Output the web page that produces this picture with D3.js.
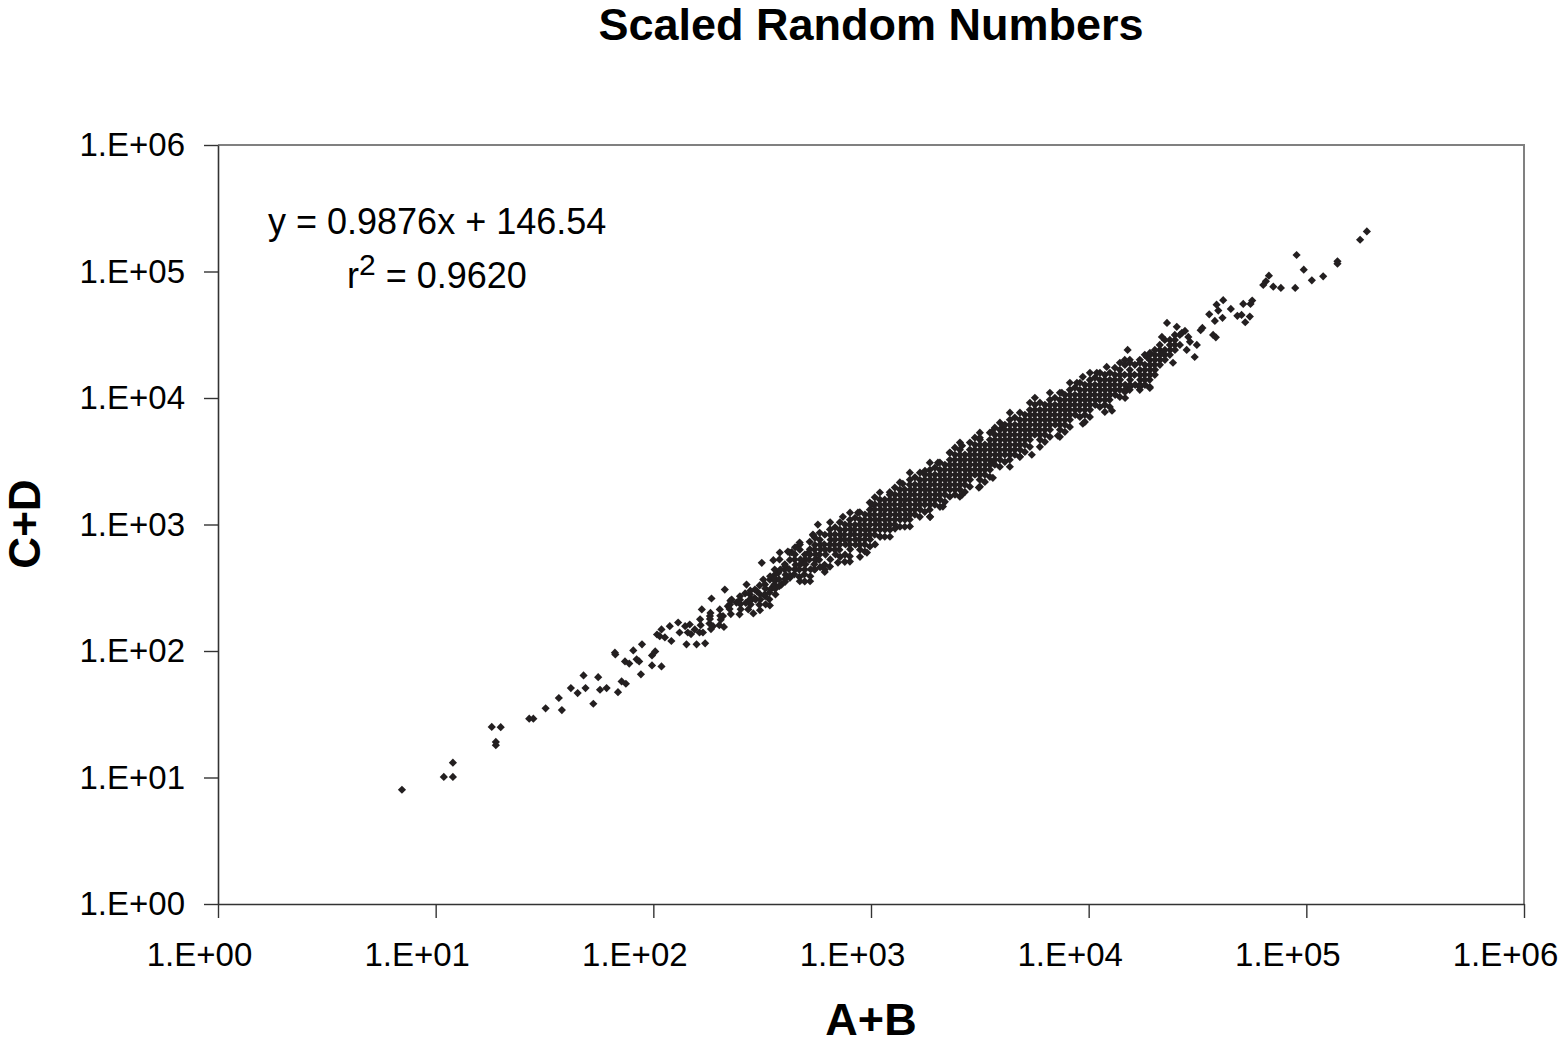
<!DOCTYPE html>
<html>
<head>
<meta charset="utf-8">
<script src="https://cdnjs.cloudflare.com/ajax/libs/d3/7.8.5/d3.min.js"></script>
<style>
  body { margin: 0; background: #fff; }
  svg { display: block; font-family: "Liberation Sans", Arial, sans-serif; }
</style>
</head>
<body>
<div id="chart"></div>
<script>
// [A+B, C+D] pairs

// sparse low end
var sparseLow = [
  [7.0,8.0],[10.9,10.1],[12.0,10.1],[12.0,13.1],[18.1,25.1],[19.9,25.0],[18.9,19.1],[18.9,18.0],
  [26.9,29.2],[28.1,29.2],[32.0,35.2],[36.8,42.5],[38.0,34.1],[41.8,50.9],[44.9,46.5],[47.8,64.1],
  [48.8,50.9],[53.0,38.3],[55.8,62.1],[56.9,49.4],[61.0,50.9],[66.6,97.0],[66.9,94.0],[68.8,47.3],
  [71.5,57.5],[74.8,55.1],[74.1,82.7],[77.5,79.6],[80.9,101],[83.8,85.9],[86.1,82.7],
  [87.7,65.4],[88.7,113],[98.6,76.9],[109,75.5],[98.6,92.3],[102,99.3]
];

// lower part of the band (about 100 to 560)
var bandLower = [
  [104,135],[109,148],[107,131],[113,128],[119,157],[121,120],[130,168],[132,140],[140,157],[142,113],
  [144,140],[158,113],[155,148],[167,213],[164,178],[173,115],[169,140],[185,260],[182,189],[188,157],
  [211,155],[209,189],[213,306],[220,226],[229,255],[241,241],[250,271],[268,335],[273,213],[288,198],
  [283,255],[299,297],[309,210],[315,498],[320,367],[326,271],[343,229],[356,522],[356,325],[375,415],
  [388,335],[403,468],[432,604],[424,379],[447,441],[471,694],[471,356],[488,498],[525,356],[515,597],
  [543,817],[552,441],[562,528],
  [182,179],[184,149],[202,213],[204,177],[225,233],[227,196],[250,254],[252,214],[278,280],[280,233],
  [293,306],[295,255],[309,281],[307,232],[326,336],[324,279],[328,234],[343,366],[345,307],[341,256],
  [362,401],[360,336],[364,280],
  [147,162],[149,136],[165,160],[163,140],[183,200],[181,165],[203,190],[201,160],[226,250],[224,215],
  [251,235],[249,195],[279,300],[277,255],[308,330],[310,255],[344,390],[342,290],[361,440],[363,360],
  [264,285],[266,240],[292,262],[327,312],[361,372],[363,310],[401,440],[403,370],[446,528],[448,445],
  [498,530],[496,440],[551,634],[553,528],[550,441]
];

// dense part of the band
var bandCore = [
  [380,530],[383,440],[378,368],[402,485],[405,400],[424,525],[420,444],[447,580],[450,480],[444,404],
  [471,632],[474,530],[468,440],[472,482],[497,578],[500,485],[494,403],
  [524,636],[520,527],[528,442],[525,579],[552,690],[556,580],[549,484],
  [582,758],[586,636],[578,526],[583,694],[580,579],
  [614,830],[610,696],[618,578],[612,480],[615,634],
  [648,915],[652,758],[645,635],[650,530],[649,832],[647,694],
  [683,835],[680,692],[687,580],[684,760],[682,634],
  [720,910],[724,762],[716,632],[721,832],[718,694],
  [759,1000],[755,830],[763,695],[760,577],[760,911],[757,760],
  [800,1090],[805,912],[796,758],[802,636],[798,997],[803,833],[799,695],
  [844,995],[840,834],[848,692],[842,912],[846,760],
  [889,1095],[893,910],[885,762],[890,632],[887,999],[891,831],[888,693],
  [938,1200],[934,996],[942,830],[936,696],[936,1092],[940,910],[937,761],
  [988,1310],[992,1095],[984,908],[990,762],[986,1198],[989,997],[987,831],
  [1042,1440],[1038,1195],[1046,1000],[1040,830],[1044,696],[1040,1312],[1043,1094],[1041,910],
  [1099,1570],[1104,1315],[1094,1090],[1100,912],[1097,1435],[1101,1196],[1098,999],
  [1158,1435],[1153,1200],[1162,997],[1156,1571],[1160,1310],[1157,1092],[1159,912],
  [1221,1575],[1226,1308],[1216,1095],[1222,910],[1219,1437],[1223,1198],[1220,997],
  [1288,1720],[1283,1438],[1293,1195],[1286,1000],[1286,1573],[1290,1312],[1287,1094],
  [1358,1890],[1364,1570],[1352,1313],[1360,1092],[1356,1721],[1361,1437],[1357,1196],
  [1431,1725],[1425,1434],[1437,1198],[1429,1887],[1433,1571],[1430,1311],[1432,1093],
  [1509,2260],[1515,1884],[1503,1575],[1510,1310],[1506,1095],[1507,2066],[1511,1723],[1508,1436],[1510,1197],
  [1591,2070],[1585,1720],[1597,1435],[1590,1198],[1589,1886],[1593,1572],[1590,1312],
  [1677,2258],[1683,1888],[1671,1570],[1679,1312],[1675,2064],[1680,1722],[1676,1436],
  [1768,2480],[1762,2063],[1774,1724],[1766,1437],[1766,2262],[1770,1887],[1767,1572],
  [1865,2710],[1871,2265],[1858,1885],[1866,1573],[1860,1310],[1863,2477],[1867,2065],[1864,1721],[1866,1437],
  [1966,2475],[1960,2067],[1972,1720],[1965,1434],[1964,2261],[1968,1886],[1965,1573],
  [2073,2715],[2080,2258],[2066,1887],[2075,1571],[2071,2476],[2076,2066],[2072,1722],
  [2185,2968],[2178,2478],[2192,2066],[2183,1723],[2183,2711],[2188,2262],[2184,1887],
  [2303,3250],[2310,2710],[2296,2262],[2305,1885],[2301,2971],[2306,2477],[2302,2065],
  [2429,3560],[2422,2972],[2436,2474],[2427,2066],[2432,1721],[2427,3253],[2431,2712],[2428,2261],[2430,1886],
  [2561,3900],[2569,3255],[2553,2711],[2563,2260],[2558,1888],[2559,3562],[2564,2970],[2560,2476],[2562,2065],
  [2700,3565],[2692,2969],[2708,2477],[2698,2064],[2698,3252],[2703,2712],[2699,2261],
  [2847,3902],[2855,3250],[2839,2713],[2850,2262],[2845,3563],[2850,2971],[2846,2476],
  [3001,4270],[2992,3563],[3010,2971],[3003,2475],[2999,3901],[3004,3253],[3000,2712],
  [3164,4680],[3173,3900],[3155,3253],[3166,2712],[3160,2260],[3162,4272],[3167,3562],[3163,2970],[3165,2476],
  [3336,4273],[3327,3561],[3345,2970],[3334,2477],[3334,3902],[3339,3252],[3335,2713],
  [3517,4676],[3527,3903],[3507,3251],[3520,2711],[3515,4273],[3520,3562],[3516,2970],
  [3708,5120],[3698,4274],[3718,3560],[3705,2972],[3706,4678],[3711,3901],[3707,3253],
  [3909,5610],[3920,4677],[3898,3900],[3912,3254],[3907,5123],[3912,4272],[3908,3562],
  [4122,6140],[4110,5125],[4134,4270],[4120,3563],[4120,5610],[4125,4678],[4121,3901],
  [4345,6730],[4357,5608],[4333,4680],[4348,3902],[4340,3250],[4343,6144],[4348,5123],[4344,4272],[4346,3562],
  [4581,6145],[4568,5121],[4594,4271],[4578,3561],[4579,5610],[4584,4678],[4580,3901],
  [4831,6728],[4845,5612],[4817,4679],[4835,3900],[4829,6144],[4834,5123],[4830,4272],
  [5093,7370],[5078,6143],[5108,5124],[5090,4273],[5091,6729],[5096,5610],[5092,4678],
  [5370,8070],[5386,6731],[5354,5611],[5374,4677],[5368,7369],[5373,6144],[5369,5123],
  [5662,8840],[5646,7368],[5678,6145],[5658,5122],[5660,8070],[5665,6729],[5661,5610],
  [5969,8072],[5986,6728],[5952,5609],[5973,4680],[5967,7369],[5972,6144],[5968,5123],
  [6293,8835],[6275,7370],[6311,6143],[6290,5125],[6291,8070],[6296,6729],[6292,5610],
  [6635,9680],[6654,8068],[6616,6730],[6640,5611],[6633,8837],[6638,7369],[6634,6144],
  [6995,8838],[6975,7367],[7015,6144],[6993,8070],[6998,6729],
  [7375,9676],[7396,8071],[7354,6729],[7380,5612],[7373,8837],[7378,7369],[7374,6144],
  [7776,10600],[7754,8836],[7798,7370],[7770,6146],[7774,9678],[7779,8070],[7775,6729],
  [8197,11600],[8220,9680],[8174,8072],[8200,6728],[8195,10600],[8200,8837],[8196,7369],
  [8643,10610],[8619,8838],[8667,7368],[8641,9678],[8646,8070],
  [9112,11620],[9138,9677],[9086,8070],[9110,10600],[9115,8837],
  [9607,12700],[9580,10602],[9634,8836],[9600,7370],[9605,11610],[9610,9678],[9606,8070],
  [10130,13900],[10160,11610],[10100,9680],[10140,8069],[10120,12710],[10150,10600],[10130,8840],
  [10680,12720],[10650,10598],[10710,8838],[10670,11610],[10700,9680],
  [11260,13930],[11290,11605],[11230,9679],[11250,12710],[11280,10600],
  [11870,15250],[11840,12705],[11900,10601],[11860,8837],[11860,13920],[11890,11610],[11870,9680],
  [12510,13915],[12545,11612],[12475,9678],[12500,12710],[12530,10600],
  [13190,15235],[13150,12712],[13230,10599],[13180,13920],[13210,11610],
  [13910,16700],[13950,13925],[13870,11608],[13900,15240],[13930,12710],
  [14670,18270],[14630,15245],[14710,12708],[15460,16705],[15500,13918],
  [16300,18285],[16250,15238],[16350,12715],[17190,16698],[17240,13921],
  [18120,18278],[18070,15242],[19110,20010],[19160,16702],[19060,13919],
  [20150,21920],[20100,18283],[21230,24000],[21290,20025],[22390,21935],
  [23610,28790],[23680,24015],[24890,26310],
  [14650,20000],[14690,11600],[15450,20020],[15470,15240],[15480,12710],[15440,11610],
  [17180,20020],[17200,15240],[17210,12710],[17170,11610],[18110,21930],[18130,16700],[18100,13920],[18140,12710],
  [19100,21930],[19120,18280],[19130,15240],[20140,24010],[20160,20020],[20170,16700],[20130,15240],
  [21220,26300],[21240,21930],[21250,18280],[22380,28800],[22400,24010],[22410,20020],
  [23620,26300],[23600,21930],[24880,31540],[24900,28800],[24910,24010],[26230,31540],[26250,26300]
];

// outer rows just above and below the dense core
var bandOuter = [
  [381,600],[379,325],[423,600],[425,395],[470,720],[469,385],[523,730],[526,390],[581,860],[584,460],
  [649,1040],[648,465],[719,1040],[722,555],[801,1240],[799,560],[888,1250],[890,555],[987,1490],[989,670],
  [1098,1790],[1101,800],[1220,1800],[1222,800],[1357,2150],[1359,960],[1508,2570],[1509,965],
  [1678,2570],[1676,1150],[1864,3080],[1866,1150],[2072,3090],[2074,1380],[2304,3700],[2302,1660],
  [2562,4440],[2560,1660],[2848,4440],[2846,1990],[3163,5320],[3165,1990],[3518,5320],[3516,2380],
  [3910,6380],[3908,2860],[4346,7650],[4344,2860],[4832,7650],[4830,3430],[5371,9170],[5369,4110],
  [5970,9180],[5968,4110],[6636,11000],[6634,4930],[7376,11000],[7374,4930],[8198,13200],[8196,5910],
  [9113,13200],[9111,7090],[10135,15800],[10125,7090],[11265,15800],[11255,8500],[12515,15800],[12505,8500],
  [13915,19000],[13905,10200],[15465,19000],[15455,12200],[17195,19000],[17185,12200],[19115,22700],[19105,12200],
  [403,352],[448,660],[496,355],[553,785],[613,422],[684,950],[758,507],[845,1130],[937,612],[1041,1640],
  [1157,800],[1287,1960],[1430,960],[1592,2360],[1767,1260],[1967,2820],[2184,1510],[2430,4050],[2699,1810],
  [3002,4860],[3335,2170],[3707,5830],[4121,3130],[4580,7000],[5092,3750],[5661,10050],[6292,4500],
  [6996,10050],[7775,5400],[8644,12080],[9606,6470],[10690,14500],[11865,7760],[13200,17350],[14680,11160]
];

// ragged upper and lower edges of the band
var bandEdges = [
  [415,611],[541,832],[570,998],[743,1150],[871,1240],[1010,1440],[1220,1720],[1400,2100],[1770,2660],
  [2030,3080],[2300,3690],[2620,4200],[3160,4850],[3590,5410],
  [614,441],[705,500],[800,509],[958,600],[1100,802],[1290,928],[1870,1150],[2140,1385],[2620,1720],
  [3130,1960],[3630,2340],
  [4040,6030],[7530,11000],[8830,13200],[9400,14700],[10900,15800],[12100,17600],[15100,24000],
  [18500,21100],[21700,30400],[22900,39200],[25400,36500],
  [3630,3080],[4830,3440],[5480,3560],[7220,5030],[9400,6260],[12800,7930],[14700,10000],[19100,12000]
];

// sparse high end
var sparseHigh = [
  [21900,22700],[28200,24000],[29200,27800],[26800,32700],[31400,26300],[30700,21100],[24400,19000],
  [33300,35800],[32700,34400],[27700,33900],[28700,30400],[37300,31500],[38400,30200],
  [38700,54700],[39400,49100],[35800,45900],[41200,43000],[38000,40700],[41500,59300],[45000,50600],
  [48200,44600],[50400,45400],[55000,44000],[52400,39700],[56400,58900],[55400,55400],[51300,55400],
  [65200,83700],[63400,78200],[67300,92700],[70500,75900],[76400,74100],[88900,74100],
  [106000,85200],[119500,91600],[97300,103300],[139000,120300],[139000,115300],[90200,135000],
  [176600,178200],[189700,207500]
];

var tickValues = [1, 10, 100, 1000, 10000, 100000, 1000000];
var tickLabels = ["1.E+00", "1.E+01", "1.E+02", "1.E+03", "1.E+04", "1.E+05", "1.E+06"];

var points = sparseLow.concat(bandLower, bandCore, bandOuter, bandEdges, sparseHigh);

var W = 1559, H = 1045;
var margin = {top: 145, right: 35, bottom: 141, left: 218};
var width = W - margin.left - margin.right,
    height = H - margin.top - margin.bottom;

var svg = d3.select("#chart").append("svg")
  .attr("width", W)
  .attr("height", H);

svg.append("rect").attr("width", W).attr("height", H).attr("fill", "#fff");

var g = svg.append("g")
  .attr("transform", "translate(" + margin.left + "," + margin.top + ")");

var x = d3.scaleLog().domain([1, 1e6]).range([0, width]);
var y = d3.scaleLog().domain([1, 1e6]).range([height, 0]);

var fmt = function(d) { return tickLabels[tickValues.indexOf(d)]; };

// top and right frame (grey)
g.append("path")
  .attr("d", "M0,0H" + width + "V" + height)
  .attr("fill", "none")
  .attr("stroke", "#808080")
  .attr("stroke-width", 2);

var xAxis = g.append("g")
  .attr("transform", "translate(0," + height + ")")
  .call(d3.axisBottom(x).tickValues(tickValues).tickFormat(fmt)
    .tickSize(14).tickSizeOuter(0).tickPadding(25));

var yAxis = g.append("g")
  .call(d3.axisLeft(y).tickValues(tickValues).tickFormat(fmt)
    .tickSize(14).tickSizeOuter(0).tickPadding(19));

[xAxis, yAxis].forEach(function(a) {
  a.selectAll("path.domain").attr("stroke", "#333").attr("stroke-width", 1.6);
  a.selectAll(".tick line").attr("stroke", "#333").attr("stroke-width", 1.4);
  a.selectAll("text")
    .attr("fill", "#000")
    .style("font-size", "33px")
    .style("font-family", "'Liberation Sans', Arial, sans-serif");
});
xAxis.selectAll("text").attr("dx", -19);

// scatter points, small diamonds
var diamond = "M0,-4.1L4.1,0L0,4.1L-4.1,0Z";
g.append("g")
  .selectAll("path")
  .data(points)
  .join("path")
  .attr("d", diamond)
  .attr("transform", function(d) { return "translate(" + x(d[0]) + "," + y(d[1]) + ")"; })
  .attr("fill", "#231f20");

// title
svg.append("text")
  .attr("x", margin.left + width / 2)
  .attr("y", 40)
  .attr("text-anchor", "middle")
  .style("font-size", "45px")
  .style("font-weight", "bold")
  .text("Scaled Random Numbers");

// axis titles
svg.append("text")
  .attr("x", margin.left + width / 2)
  .attr("y", 1035)
  .attr("text-anchor", "middle")
  .style("font-size", "45px")
  .style("font-weight", "bold")
  .text("A+B");

svg.append("text")
  .attr("transform", "translate(40," + 524 + ") rotate(-90)")
  .attr("text-anchor", "middle")
  .style("font-size", "44px")
  .style("font-weight", "bold")
  .text("C+D");

// regression label
svg.append("text")
  .attr("x", 268)
  .attr("y", 234)
  .style("font-size", "36px")
  .text("y = 0.9876x + 146.54");

var r2 = svg.append("text")
  .attr("x", 347)
  .attr("y", 288)
  .style("font-size", "36px");
r2.append("tspan").text("r");
r2.append("tspan").attr("dy", -13).style("font-size", "30px").text("2");
r2.append("tspan").attr("dy", 13).text(" = 0.9620");
</script>
</body>
</html>
